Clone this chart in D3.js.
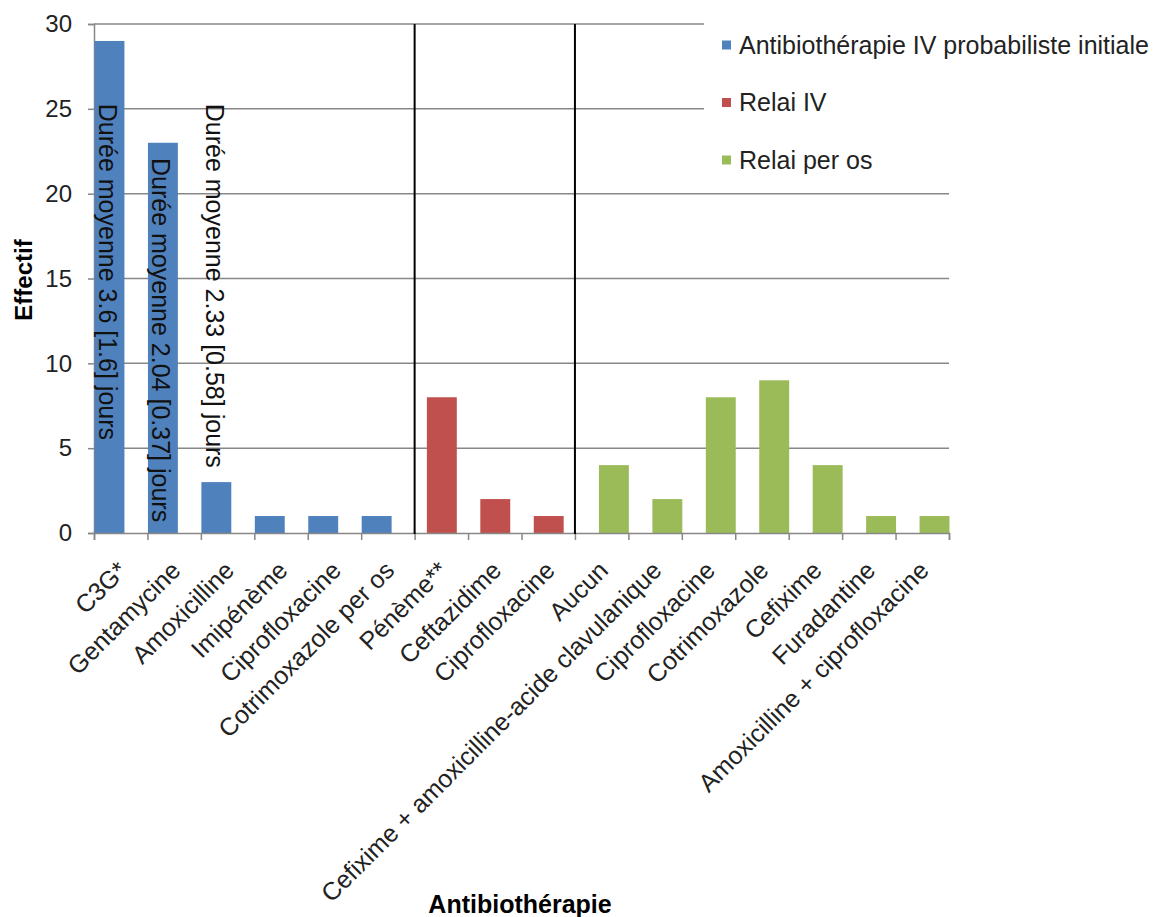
<!DOCTYPE html>
<html>
<head>
<meta charset="utf-8">
<script src="https://cdn.jsdelivr.net/npm/d3@7"></script>
<style>
  body { margin: 0; background: #fff; }
  text { font-family: "Liberation Sans", Arial, sans-serif; }
</style>
</head>
<body>
<svg id="chart" width="1169" height="917"></svg>
<script>
// data
var categories = ['C3G*', 'Gentamycine', 'Amoxicilline', 'Imipénème', 'Ciprofloxacine',
  'Cotrimoxazole per os', 'Pénème**', 'Ceftazidime', 'Ciprofloxacine', 'Aucun',
  'Cefixime + amoxicilline-acide clavulanique', 'Ciprofloxacine', 'Cotrimoxazole',
  'Cefixime', 'Furadantine', 'Amoxicilline + ciprofloxacine'];
var series = ['Antibiothérapie IV probabiliste initiale', 'Relai IV', 'Relai per os'];
// which series each category belongs to
var groupOf = [0, 0, 0, 0, 0, 0, 1, 1, 1, 2, 2, 2, 2, 2, 2, 2];
var values = [29, 23, 3, 1, 1, 1, 8, 2, 1, 4, 2, 8, 9, 4, 1, 1];
var colors = ['#4F81BD', '#C0504D', '#9BBB59'];
var yTicks = [0, 5, 10, 15, 20, 25, 30];
// duration notes: category index, value where the text starts
var notes = [
  {cat: 0, start: 25.3, text: 'Durée moyenne 3.6 [1.6] jours'},
  {cat: 1, start: 22.1, text: 'Durée moyenne 2.04 [0.37] jours'},
  {cat: 2, start: 25.3, text: 'Durée moyenne 2.33 [0.58] jours'}
];

var data = [];
categories.forEach(function(c, i) {
  data.push({i: i, name: c, value: values[i], group: groupOf[i]});
});

document.addEventListener('DOMContentLoaded', function () {
  draw();
}, false);

function draw() {
  var svg = d3.select('#chart');
  var left = 94, right = 949, top = 24, bottom = 533;

  var x = d3.scaleBand()
    .domain(d3.range(categories.length))
    .range([left, right]);
  var xEdge = d3.scaleLinear().domain([0, categories.length]).range([left, right]);
  var xSub = d3.scalePoint().domain([0, 1, 2]).range([0.5, 24]);
  var barW = x.bandwidth() * 0.56;

  var y = d3.scaleLinear().domain([0, 30]).range([bottom, top]);

  // gridlines
  svg.append('g').selectAll('line')
    .data(yTicks.filter(function(d){ return d > 0; }))
    .enter().append('line')
    .attr('x1', left).attr('x2', right)
    .attr('y1', function(d){ return y(d); })
    .attr('y2', function(d){ return y(d); })
    .attr('stroke', '#878787').attr('stroke-width', 1.5);

  // y axis
  var yAxis = svg.append('g')
    .attr('transform', 'translate(' + left + ',0)')
    .call(d3.axisLeft(y).tickValues(yTicks).tickSize(6).tickPadding(16));
  yAxis.select('.domain').attr('stroke', '#878787').attr('stroke-width', 1.5);
  yAxis.selectAll('.tick line').attr('stroke', '#878787').attr('stroke-width', 1.5);
  yAxis.selectAll('.tick text')
    .style('font-family', '"Liberation Sans", Arial, sans-serif')
    .style('font-size', '24px').attr('fill', '#222');

  // bars
  svg.append('g').selectAll('rect')
    .data(data)
    .enter().append('rect')
    .attr('x', function(d){ return x(d.i) + xSub(d.group); })
    .attr('width', barW)
    .attr('y', function(d){ return y(d.value); })
    .attr('height', function(d){ return y(0) - y(d.value); })
    .attr('fill', function(d){ return colors[d.group]; });

  // x axis with ticks between categories
  var xAxis = svg.append('g')
    .attr('transform', 'translate(0,' + bottom + ')')
    .call(d3.axisBottom(xEdge).ticks(categories.length).tickFormat('').tickSize(7));
  xAxis.select('.domain').attr('stroke', '#878787').attr('stroke-width', 1.5);
  xAxis.selectAll('.tick line').attr('stroke', '#878787').attr('stroke-width', 1.5);

  // separators between groups
  var bounds = [];
  for (var k = 1; k < groupOf.length; k++) {
    if (groupOf[k] !== groupOf[k - 1]) bounds.push(k);
  }
  svg.append('g').selectAll('line')
    .data(bounds)
    .enter().append('line')
    .attr('x1', function(d){ return xEdge(d); })
    .attr('x2', function(d){ return xEdge(d); })
    .attr('y1', top).attr('y2', bottom + 1)
    .attr('stroke', '#000').attr('stroke-width', 2);

  // category labels
  svg.append('g').selectAll('text')
    .data(data)
    .enter().append('text')
    .attr('transform', function(d){
      return 'translate(' + (x(d.i) + x.bandwidth() / 2 + 8) + ',' + 572 + ') rotate(-45)';
    })
    .attr('text-anchor', 'end')
    .style('font-size', '25px')
    .attr('fill', '#222')
    .text(function(d){ return d.name; });

  // duration notes, written down along the bars
  svg.append('g').selectAll('text')
    .data(notes)
    .enter().append('text')
    .attr('transform', function(d){
      var cx = x(d.cat) + xSub(0) + barW / 2 - 2;
      return 'translate(' + cx + ',' + y(d.start) + ') rotate(90)';
    })
    .attr('dy', '0.35em')
    .style('font-size', '25px')
    .attr('fill', '#111')
    .text(function(d){ return d.text; });

  // legend
  var legend = svg.append('g');
  legend.append('rect')
    .attr('x', 704).attr('y', 12).attr('width', 465).attr('height', 172)
    .attr('fill', '#fff');
  var items = legend.selectAll('g')
    .data(series)
    .enter().append('g')
    .attr('transform', function(d, i){ return 'translate(722,' + (45 + i * 57.5) + ')'; });
  items.append('rect')
    .attr('x', 0).attr('y', -4.5).attr('width', 9).attr('height', 9)
    .attr('fill', function(d, i){ return colors[i]; });
  items.append('text')
    .attr('x', 17).attr('dy', '0.35em')
    .style('font-size', '25px')
    .attr('fill', '#222')
    .text(function(d){ return d; });

  // axis titles
  svg.append('text')
    .attr('transform', 'translate(32,280) rotate(-90)')
    .attr('text-anchor', 'middle')
    .style('font-size', '24px').style('font-weight', 'bold')
    .text('Effectif');

  svg.append('text')
    .attr('x', 520).attr('y', 913)
    .attr('text-anchor', 'middle')
    .style('font-size', '25px').style('font-weight', 'bold')
    .text('Antibiothérapie');
}
</script>
</body>
</html>
